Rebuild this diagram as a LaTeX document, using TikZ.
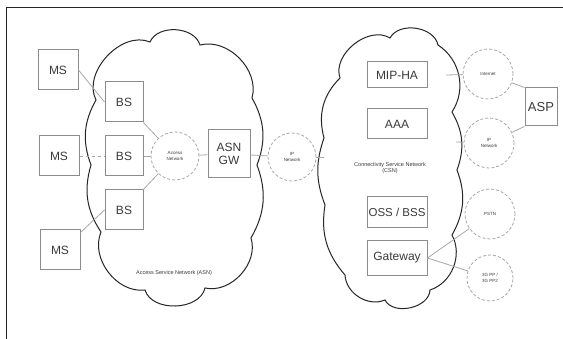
\documentclass[tikz,border=0pt]{standalone}
\usepackage{fontspec}
\setmainfont{Liberation Sans}
\definecolor{boxc}{HTML}{8C8C8C}
\definecolor{linec}{HTML}{A8A8A8}
\definecolor{txtc}{HTML}{3A3A3A}
\begin{document}
\begin{tikzpicture}[x=1pt,y=-1pt,
  box/.style={draw=boxc,line width=1pt,inner sep=0pt,text=txtc,font=\fontsize{12}{13}\selectfont},
  net/.style={draw=linec,densely dashed,line width=0.8pt,circle,inner sep=0pt,minimum size=50pt,text=txtc,font=\fontsize{4.5}{5.5}\selectfont,align=center},
  conn/.style={draw=linec,line width=0.8pt},
  cloudline/.style={draw=black!85,line width=1pt,fill=white},
  lbl/.style={text=txtc,font=\fontsize{5.5}{6.5}\selectfont,align=center}]
\useasboundingbox (0,0) rectangle (563,339);
\fill[white] (0,0) rectangle (563,339);
\draw[line width=1.6pt,black!85] (6.5,339) -- (6.5,7.5) -- (563,7.5);
% ASN cloud
\draw[cloudline] (96,100) to[bend left=70] (150,42) to[bend left=70] (200,45)
  to[bend left=60] (252,98) to[bend left=25] (257,165) to[bend left=25] (251,238)
  to[bend left=60] (205,288) to[bend left=75] (145,290) to[bend left=60] (101,232)
  to[bend left=25] (91,165) to[bend left=25] cycle;
% CSN cloud
\draw[cloudline] (340,78) to[bend left=70] (390,38) to[bend left=70] (438,45)
  to[bend left=45] (452,112) to[bend left=25] (457,170) to[bend left=25] (452,235)
  to[bend left=50] (430,290) to[bend left=75] (385,300) to[bend left=55] (345,275)
  to[bend left=25] (325,205) to[bend left=20] (324,138) to[bend left=30] cycle;
\node[lbl] (asnlbl) at (174,273) {Access Service Network (ASN)};
\node[lbl] (csnlbl) at (390,168) {Connectivity Service Network\\(CSN)};
% ASN side
\node[box,minimum width=40pt,minimum height=40pt] (ms1) at (58,70) {MS};
\node[box,minimum width=40pt,minimum height=40pt] (ms2) at (59,156) {MS};
\node[box,minimum width=40pt,minimum height=40pt] (ms3) at (60,250) {MS};
\node[box,minimum width=38pt,minimum height=40pt] (bs1) at (124,102) {BS};
\node[box,minimum width=38pt,minimum height=40pt] (bs2) at (124,156) {BS};
\node[box,minimum width=38pt,minimum height=40pt] (bs3) at (124,210) {BS};
\node[net,minimum size=48pt] (an) at (175,156) {Access\\Network};
\node[box,minimum width=42pt,minimum height=48pt,align=center] (gw) at (229,154) {ASN\\GW};
\node[net,minimum size=48pt] (ipl) at (292,157) {IP\\Network};
% CSN side
\node[box,minimum width=60pt,minimum height=26pt] (mip) at (397,75) {MIP-HA};
\node[box,minimum width=60pt,minimum height=30pt] (aaa) at (397,124) {AAA};
\node[box,minimum width=60pt,minimum height=31pt,font=\fontsize{11.5}{13}\selectfont] (oss) at (397,212) {OSS / BSS};
\node[box,minimum width=60pt,minimum height=35pt] (gwy) at (397,258) {Gateway};
\node[net,minimum size=50pt] (inet) at (488,74) {Internet};
\node[net,minimum size=50pt] (ipr) at (489,143) {IP\\Network};
\node[net,minimum size=50pt] (pstn) at (490,214) {PSTN};
\node[net,minimum size=46pt] (tgpp) at (490,278) {3G PP /\\3G PP2};
\node[box,minimum width=32pt,minimum height=38pt,font=\fontsize{13}{14}\selectfont] (asp) at (541,107) {ASP};
% free ends on cloud edge
\coordinate (cl) at (324,157);
\coordinate (cr1) at (446,75);
\coordinate (cr2) at (456,142);
% connectors
\draw[conn] (ms1.east) -- (bs1.west);
\draw[conn,dashed] (ms2) -- (bs2);
\draw[conn] ([yshift=-3pt]ms3.north east) -- (bs3.west);
\draw[conn] (bs1) -- (an);
\draw[conn] (bs2) -- (an);
\draw[conn] (bs3) -- (an);
\draw[conn] (an) -- (gw);
\draw[conn] (gw) -- (ipl);
\draw[conn] (ipl) -- (cl);
\draw[conn] (cr1) -- (inet);
\draw[conn] (cr2) -- (ipr);
\draw[conn] (inet) -- (asp.north west);
\draw[conn] (ipr) -- (asp.south west);
\draw[conn] (gwy.east) -- (pstn);
\draw[conn] (gwy.east) -- (tgpp);
\end{tikzpicture}
\end{document}
